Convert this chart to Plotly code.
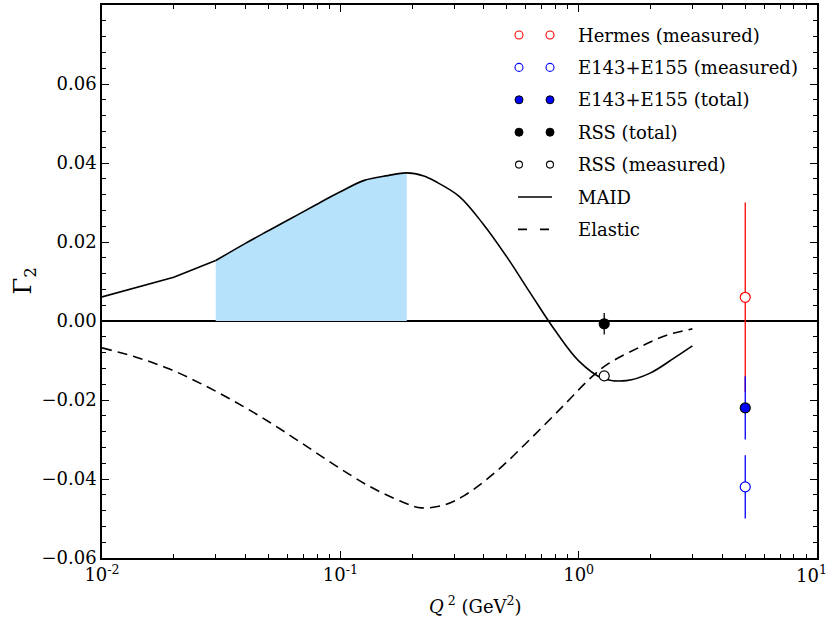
import numpy as np
import plotly.graph_objects as go

# MAID model curve for Gamma_2 (coarse low-Q2 part is joined by straight segments)
maid_low_q2 = [0.01, 0.02, 0.03]
maid_low_g2 = [0.0061, 0.0111, 0.0153]
maid_q2 = [0.03, 0.0398, 0.0501, 0.0631, 0.0794, 0.1, 0.126, 0.158, 0.19, 0.224,
           0.251, 0.316, 0.398, 0.501, 0.631, 0.794, 1.0, 1.259, 1.585, 1.995, 2.512, 3.0]
maid_g2 = [0.0153, 0.0196, 0.0229, 0.0262, 0.0295, 0.0327, 0.0356, 0.0368, 0.0375, 0.0367,
           0.0353, 0.0315, 0.0245, 0.0161, 0.0068, -0.0023, -0.0101, -0.0145, -0.0151, -0.0132,
           -0.0094, -0.0063]

# Elastic contribution
elastic_q2 = [0.01, 0.0138, 0.0191, 0.0263, 0.0363, 0.0501, 0.0692, 0.0955, 0.132, 0.182,
              0.219, 0.275, 0.331, 0.457, 0.631, 0.871, 1.096, 1.318, 1.82, 2.34, 3.0]
elastic_g2 = [-0.0068, -0.0091, -0.0121, -0.0160, -0.0205, -0.0255, -0.0310, -0.0366, -0.0418, -0.0458,
              -0.0473, -0.0465, -0.0442, -0.0378, -0.0297, -0.0212, -0.0150, -0.0110, -0.0065, -0.0036,
              -0.0020]

# shaded integration range of the MAID curve
band_lo, band_hi = 0.03, 0.19

# experimental points: (Q2, Gamma2, error)
hermes_meas = (5.0, 0.006, 0.024)
e143_meas = (5.0, -0.042, 0.008)
e143_total = (5.0, -0.022, 0.008)
rss_total = (1.28, -0.0007, 0.0027)
rss_meas = (1.28, -0.0139, 0.0)

legend_labels = ["Hermes (measured)", "E143+E155 (measured)", "E143+E155 (total)",
                 "RSS (total)", "RSS (measured)", "MAID", "Elastic"]

FONT = "DejaVu Serif"
L, R, T, B = 102, 13, 5, 69
W, H = 830, 627

fig = go.Figure()

band_x = [q for q in maid_q2 if band_lo <= q <= band_hi]
band_y = [g for q, g in zip(maid_q2, maid_g2) if band_lo <= q <= band_hi]
fig.add_trace(go.Scatter(x=band_x, y=band_y, mode="lines", fill="tozeroy",
                         fillcolor="#b7e2fc", line=dict(width=0, shape="spline", smoothing=1.0),
                         hoverinfo="skip"))

fig.add_trace(go.Scatter(x=maid_low_q2, y=maid_low_g2, mode="lines",
                         line=dict(color="black", width=1.6)))
fig.add_trace(go.Scatter(x=maid_q2, y=maid_g2, mode="lines",
                         line=dict(color="black", width=1.6, shape="spline", smoothing=1.0)))
fig.add_trace(go.Scatter(x=elastic_q2, y=elastic_g2, mode="lines",
                         line=dict(color="black", width=1.6, shape="spline", smoothing=1.0,
                                   dash="10px,6px")))


def point(p, color, fill, edge, size=10):
    x, y, e = p
    fig.add_trace(go.Scatter(
        x=[x], y=[y], mode="markers",
        error_y=dict(type="data", array=[e], visible=e > 0, color=color,
                     thickness=1.3, width=0),
        marker=dict(size=size, color=fill, line=dict(color=edge, width=1.2))))


point(hermes_meas, "red", "white", "red")
point(e143_total, "blue", "blue", "black")
point(e143_meas, "blue", "white", "blue")
point(rss_total, "black", "black", "black")
point(rss_meas, "black", "white", "black")

# legend drawn on a pixel-space overlay
row_y = [35 + 32.4 * i for i in range(7)]
mx = [519, 550]
leg_markers = [
    dict(color="white", line=dict(color="red", width=1.1), size=8),
    dict(color="white", line=dict(color="blue", width=1.1), size=8),
    dict(color="blue", line=dict(color="black", width=1), size=8),
    dict(color="black", line=dict(color="black", width=1), size=8),
    dict(color="white", line=dict(color="black", width=1.1), size=7),
]
for i, m in enumerate(leg_markers):
    fig.add_trace(go.Scatter(x=mx, y=[row_y[i]] * 2, mode="markers", marker=m,
                             xaxis="x2", yaxis="y2", hoverinfo="skip"))
fig.add_trace(go.Scatter(x=[518, 552], y=[row_y[5]] * 2, mode="lines",
                         line=dict(color="black", width=1.6), xaxis="x2", yaxis="y2"))
fig.add_trace(go.Scatter(x=[518, 549], y=[row_y[6]] * 2, mode="lines",
                         line=dict(color="black", width=1.6, dash="9px,13px"),
                         xaxis="x2", yaxis="y2"))

annotations = []
for i, lab in enumerate(legend_labels):
    annotations.append(dict(x=576, y=row_y[i], xref="x2", yref="y2", text=lab,
                            showarrow=False, xanchor="left", yanchor="middle",
                            font=dict(family=FONT, size=18, color="black")))

pw = W - L - R
ph = H - T - B
annotations.append(dict(x=(24 - L) / pw, y=0.5, xref="paper", yref="paper",
                        text="Γ<sub>2</sub>", textangle=-90, showarrow=False,
                        xanchor="center", yanchor="middle",
                        font=dict(family=FONT, size=24, color="black")))
annotations.append(dict(x=(475 - L) / pw, y=-(605 - (H - B)) / ph, xref="paper", yref="paper",
                        text="<i>Q</i><sup> 2</sup> (GeV<sup>2</sup>)", showarrow=False,
                        xanchor="center", yanchor="middle",
                        font=dict(family=FONT, size=18, color="black")))

y_major = [-0.06, -0.04, -0.02, 0.0, 0.02, 0.04, 0.06]
y_text = [("−" if v < 0 else "") + f"{abs(v):.2f}" for v in y_major]
y_minor = [round(v, 3) for v in np.arange(-0.06, 0.0801, 0.004)]
x_major = [0.01, 0.1, 1, 10]
x_text = ["10<sup>-2</sup>", "10<sup>-1</sup>", "10<sup>0</sup>", ""]
x_minor = [m * d for d in (0.01, 0.1, 1) for m in range(2, 10)]

# the last decade label sits against the right edge of the figure
annotations.append(dict(x=(829 - L) / pw, y=-(574 - (H - B)) / ph, xref="paper", yref="paper",
                        text="10<sup>1</sup>", showarrow=False,
                        xanchor="right", yanchor="middle",
                        font=dict(family=FONT, size=18, color="black")))

axis_common = dict(showline=True, linecolor="black", linewidth=1.6, mirror="ticks",
                   ticks="inside", ticklen=7, tickwidth=1.2, tickcolor="black",
                   showgrid=False, automargin=False,
                   tickfont=dict(family=FONT, size=18, color="black"))

fig.update_layout(
    width=W, height=H,
    margin=dict(l=L, r=R, t=T, b=B),
    paper_bgcolor="white", plot_bgcolor="white",
    showlegend=False,
    font=dict(family=FONT, color="black"),
    xaxis=dict(type="log", range=[-2, 1], tickmode="array", tickvals=x_major,
               ticktext=x_text, zeroline=False,
               minor=dict(tickmode="array", tickvals=x_minor, ticks="inside",
                          ticklen=4, tickwidth=1, tickcolor="black"),
               **axis_common),
    yaxis=dict(range=[-0.06, 0.08], tickmode="array", tickvals=y_major, ticktext=y_text,
               zeroline=True, zerolinecolor="black", zerolinewidth=1.6,
               minor=dict(tickmode="array", tickvals=y_minor, ticks="inside",
                          ticklen=4, tickwidth=1, tickcolor="black"),
               **axis_common),
    xaxis2=dict(overlaying="x", range=[L, W - R], visible=False, anchor="y2"),
    yaxis2=dict(overlaying="y", range=[H - B, T], visible=False, anchor="x2"),
    annotations=annotations,
)

fig.write_html("out.html")
